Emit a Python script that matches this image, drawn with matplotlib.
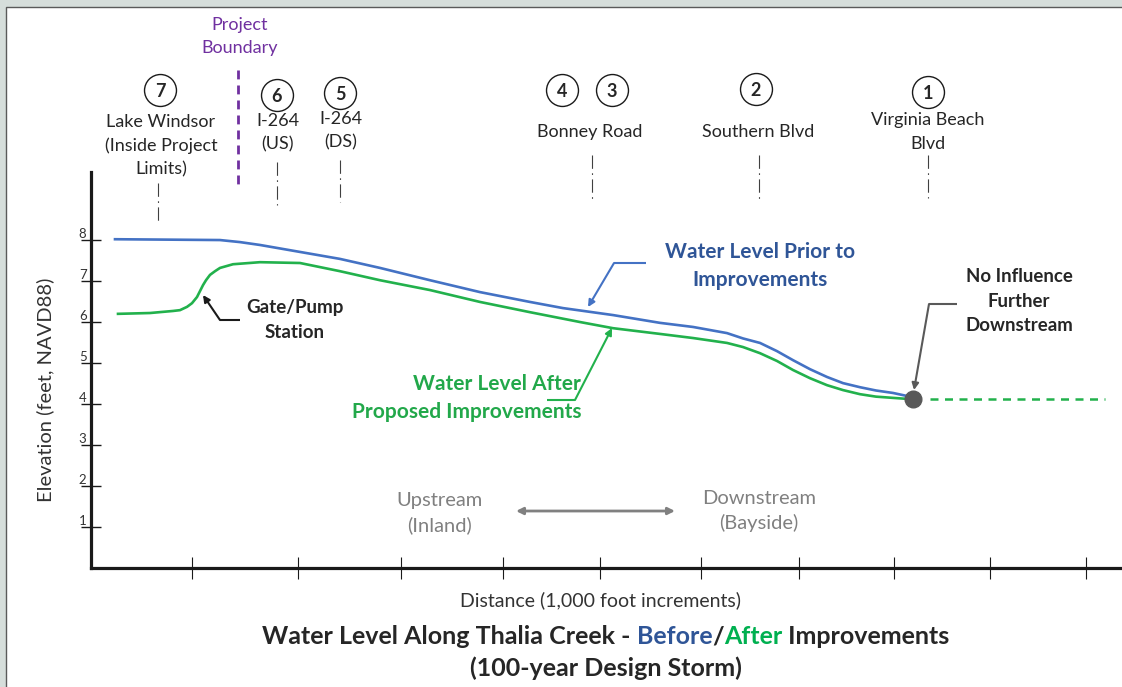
import numpy as np
import matplotlib.pyplot as plt
from matplotlib.patches import Rectangle

plt.rcParams['font.family'] = ['Lato', 'DejaVu Sans']

# water surface profile, distance in 1,000 ft from left axis, elevation ft NAVD88
before_x = [0.24, 1.29, 1.49, 1.69, 2.09, 2.49, 2.89, 3.39, 3.89, 4.39, 4.72, 5.22,
            5.69, 6.02, 6.36, 6.52, 6.69, 6.86, 7.02, 7.19, 7.36, 7.52, 7.69, 7.85,
            8.02, 8.21]
before_y = [8.02, 8.00, 7.95, 7.88, 7.71, 7.54, 7.32, 7.02, 6.73, 6.49, 6.34, 6.17,
            5.98, 5.88, 5.73, 5.60, 5.49, 5.29, 5.07, 4.85, 4.66, 4.51, 4.41, 4.33,
            4.27, 4.17]
after_x = [0.27, 0.59, 0.82, 0.89, 0.96, 1.01, 1.06, 1.12, 1.15, 1.19, 1.24, 1.29,
           1.42, 1.69, 2.09, 2.49, 2.89, 3.39, 3.89, 4.39, 4.89, 5.22, 5.69, 6.02,
           6.36, 6.52, 6.69, 6.86, 7.02, 7.19, 7.36, 7.52, 7.69, 7.85, 8.02, 8.19]
after_y = [6.20, 6.22, 6.27, 6.29, 6.37, 6.46, 6.61, 6.90, 7.02, 7.15, 7.24, 7.32,
           7.41, 7.46, 7.44, 7.24, 7.02, 6.78, 6.49, 6.24, 6.00, 5.85, 5.71, 5.61,
           5.49, 5.39, 5.24, 5.05, 4.83, 4.63, 4.46, 4.34, 4.24, 4.18, 4.15, 4.12]
tail_x = [8.39, 10.14]
tail_y = [4.12, 4.12]
end_x, end_y = 8.22, 4.13

ytick_vals = [1, 2, 3, 4, 5, 6, 7, 8]
xtick_vals = [1.01, 2.07, 3.10, 4.12, 5.09, 6.10, 7.08, 8.03, 8.99, 9.95]

site_nums = ['7', '6', '5', '4', '3', '2', '1']
site_names = ['Lake Windsor\n(Inside Project\nLimits)', 'I-264\n(US)', 'I-264\n(DS)',
              'Bonney Road', 'Southern Blvd', 'Virginia Beach\nBlvd']

BLUE = '#4472c4'
DBLUE = '#2f5597'
GREEN = '#22b14c'
PURPLE = '#7030a0'
DARK = '#262626'


# layout helpers: pixel position on the sheet -> data coords
def dx(px):
    return (px - 91) / 100.0


def dy(py):
    return (568 - py) / 41.0


fig = plt.figure(figsize=(11.22, 6.87), dpi=100)
fig.patch.set_facecolor('#d6dedb')
fig.add_artist(Rectangle((6 / 1122, -0.02), 1.2, 1.02 - 7 / 687, transform=fig.transFigure,
                         facecolor='white', edgecolor='#5a5a5a', lw=1, zorder=0))

ax = fig.add_axes([91 / 1122, 1 - 568 / 687, 1 - 91 / 1122, (568 - 172) / 687])
ax.set_facecolor('none')
ax.set_xlim(0, 10.31)
ax.set_ylim(0, 9.66)
for s in ['top', 'right']:
    ax.spines[s].set_visible(False)
for s in ['left', 'bottom']:
    ax.spines[s].set_linewidth(2.3)
    ax.spines[s].set_color('#1a1a1a')

ax.set_yticks(ytick_vals)
ax.set_yticklabels([])
ax.tick_params(axis='y', direction='inout', length=14, width=1.0, color='#1a1a1a')
ax.set_xticks(xtick_vals)
ax.set_xticklabels([])
ax.tick_params(axis='x', direction='inout', length=16, width=0.8, color='#1a1a1a')
for v in ytick_vals:
    ax.annotate(str(v), xy=(0, v), xycoords=('axes fraction', 'data'), xytext=(-6, 0),
                textcoords='offset points', ha='center', va='bottom', fontsize=9.5, color='#333333')

# profiles
ax.plot(before_x, before_y, color=BLUE, lw=1.9, zorder=3)
ax.plot(after_x, after_y, color=GREEN, lw=1.9, zorder=3)
ax.plot(tail_x, tail_y, color=GREEN, lw=1.8, ls=(0, (3.2, 2.6)), zorder=3)
ax.plot(end_x, end_y, 'o', ms=12, color='#595959', zorder=5)

LS = 1.55

# project boundary
ax.plot([dx(238), dx(238)], [dy(70), dy(187)], color=PURPLE, lw=2, ls=(0, (3.2, 2.2)), clip_on=False)
ax.text(dx(240), dy(36), 'Project\nBoundary', color=PURPLE, fontsize=13, ha='center', va='center',
        linespacing=LS)

# site markers
circ_px = [(160, 90), (277, 95), (340, 93), (562, 90), (612, 90), (756, 89), (928, 92)]
for num, (cx, cy) in zip(site_nums, circ_px):
    ax.plot(dx(cx), dy(cy), 'o', ms=23, mfc='white', mec='#1a1a1a', mew=1.0, clip_on=False)
    ax.text(dx(cx), dy(cy + 1), num, fontsize=13, fontweight='bold', ha='center', va='center',
            color=DARK)

name_px = [(161, 146), (278, 133), (341, 131), (590, 132), (758, 132), (928, 132)]
for name, (cx, cy) in zip(site_names, name_px):
    ax.text(dx(cx), dy(cy), name, fontsize=13, ha='center', va='center', color=DARK,
            linespacing=LS)

leader_px = [(158, 183, 222), (277, 162, 205), (340, 160, 202), (592, 155, 200),
             (759, 155, 200), (928, 155, 198)]
for lx, y0, y1 in leader_px:
    ax.plot([dx(lx), dx(lx)], [dy(y0), dy(y1)], color='#404040', lw=0.8,
            ls=(0, (12, 4, 1.5, 4)), clip_on=False)


# callouts
def callout(hx0, hx1, hy, tip, color):
    ax.plot([dx(hx0), dx(hx1)], [dy(hy), dy(hy)], color=color, lw=1.5, solid_capstyle='butt')
    ax.annotate('', xy=(dx(tip[0]), dy(tip[1])), xytext=(dx(hx0), dy(hy)),
                arrowprops=dict(arrowstyle='-|>', color=color, lw=1.5, mutation_scale=10,
                                shrinkA=0, shrinkB=0))


callout(220, 240, 320, (203, 295), '#1a1a1a')
ax.text(dx(295), dy(320), 'Gate/Pump\nStation', fontsize=13.5, fontweight='bold', ha='center',
        va='center', color=DARK, linespacing=LS)

callout(614, 646, 263, (588, 307), BLUE)
ax.text(dx(760), dy(266), 'Water Level Prior to\nImprovements', fontsize=15, fontweight='bold',
        ha='center', va='center', color=DBLUE, linespacing=1.45)

callout(575, 547, 400, (612, 328), GREEN)
ax.text(dx(581), dy(398), 'Water Level After\nProposed Improvements', fontsize=15,
        fontweight='bold', ha='right', va='center', multialignment='right', color='#22a84a',
        linespacing=1.45)

callout(929, 957, 304, (914, 390), '#595959')
ax.text(dx(1019), dy(301), 'No Influence\nFurther\nDownstream', fontsize=13.4, fontweight='bold',
        ha='center', va='center', color=DARK, linespacing=LS)

ax.text(dx(439), dy(513), 'Upstream\n(Inland)', fontsize=14.5, ha='center', va='center',
        color='#808080', linespacing=1.45)
ax.text(dx(759), dy(511), 'Downstream\n(Bayside)', fontsize=14.5, ha='center', va='center',
        color='#808080', linespacing=1.45)
ax.annotate('', xy=(dx(516), dy(511)), xytext=(dx(675), dy(511)),
            arrowprops=dict(arrowstyle='<|-|>', color='#808080', lw=2, mutation_scale=10,
                            shrinkA=0, shrinkB=0))

fig.text(45 / 1122, 1 - 390 / 687, 'Elevation (feet, NAVD88)', rotation=90, fontsize=14.5,
         ha='center', va='center', color='#333333')
fig.text(601 / 1122, 1 - 600 / 687, 'Distance (1,000 foot increments)', fontsize=14,
         ha='center', va='center', color='#333333')

# two-colour title
pieces = [('Water Level Along Thalia Creek - ', DARK), ('Before', DBLUE), ('/', DARK),
          ('After', '#00b050'), (' Improvements', DARK)]
r = fig.canvas.get_renderer()
objs = [fig.text(0, 1 - 637 / 687, t, color=c, fontsize=18, fontweight='bold', va='center',
                 ha='left') for t, c in pieces]
widths = [o.get_window_extent(r).width for o in objs]
x = 606 - sum(widths) / 2
for o, w in zip(objs, widths):
    o.set_x(x / 1122)
    x += w
fig.text(606 / 1122, 1 - 668 / 687, '(100-year Design Storm)', color=DARK, fontsize=18,
         fontweight='bold', ha='center', va='center')

fig.savefig('out.png', dpi=100)
